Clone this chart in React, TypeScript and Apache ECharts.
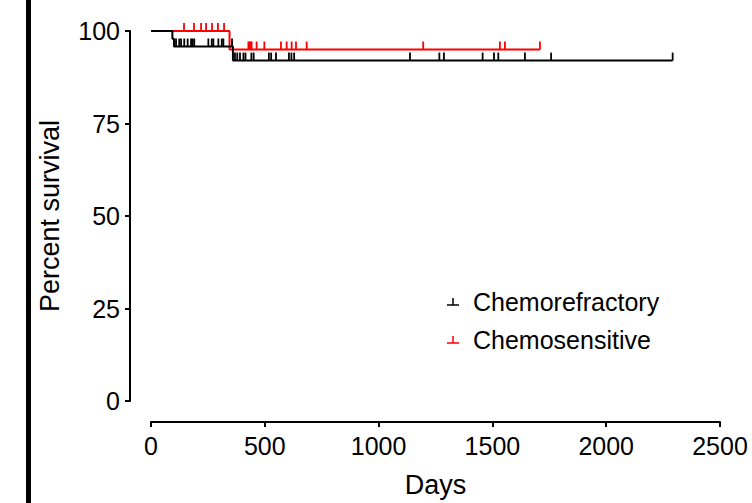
import React, { useEffect, useRef } from "react";
import * as echarts from "echarts";

// ---- data ----
const xTicks = [0, 500, 1000, 1500, 2000, 2500];
const yTicks = [0, 25, 50, 75, 100];

const seriesNames = ["Chemorefractory", "Chemosensitive"];
const seriesColors = ["#000000", "#ff0000"];

// Chemorefractory (black)
const refractoryEventDays = [94, 101, 360];
const refractorySurvival = [97.9, 95.8, 92.0];
const refractoryCensorDays = [
  110, 124, 132, 146, 161, 176, 183, 190, 252, 267, 274, 296, 311, 318, 356,
  369, 379, 391, 406, 415, 441, 451, 518, 528, 549, 606, 617, 629, 1138, 1267,
  1287, 1457, 1507, 1526, 1643, 1758, 2292,
];

// Chemosensitive (red)
const sensitiveEventDays = [345];
const sensitiveSurvival = [95.0];
const sensitiveCensorDays = [
  145, 189, 220, 242, 268, 294, 321, 428, 433, 438, 442, 464, 498, 571, 596,
  618, 637, 684, 1196, 1533, 1555, 1709,
];

function survivalAt(day: number, events: number[], surv: number[]) {
  let s = 100;
  for (let i = 0; i < events.length; i++) if (events[i] <= day) s = surv[i];
  return s;
}

function curve(events: number[], surv: number[], censors: number[]) {
  const pts: [number, number][] = [[0, 100]];
  events.forEach((d, i) => pts.push([d, surv[i]]));
  const last = censors[censors.length - 1];
  pts.push([last, survivalAt(last, events, surv)]);
  return pts;
}

function censorPts(events: number[], surv: number[], censors: number[]) {
  return censors.map((d) => [d, survivalAt(d, events, surv)]);
}

const FONT = "'Liberation Sans', Arial, Helvetica, sans-serif";

export default function App() {
  const ref = useRef<HTMLDivElement>(null);
  useEffect(() => {
    if (!ref.current) return;
    const chart = echarts.init(ref.current, undefined, { renderer: "svg" });
    const tickRender = (color: string) => (params: any, api: any) => {
      const p = api.coord([api.value(0), api.value(1)]);
      return {
        type: "line",
        shape: { x1: p[0], y1: p[1], x2: p[0], y2: p[1] - 8 },
        style: { stroke: color, lineWidth: 1.8 },
      };
    };
    const legendY = [302, 340];
    const legendGraphic: any[] = [];
    seriesNames.forEach((n, i) => {
      const y = legendY[i];
      legendGraphic.push(
        { type: "line", shape: { x1: 447, y1: y + 3, x2: 459, y2: y + 3 }, style: { stroke: seriesColors[i], lineWidth: 1.5 } },
        { type: "line", shape: { x1: 453, y1: y + 3, x2: 453, y2: y - 4 }, style: { stroke: seriesColors[i], lineWidth: 1.5 } },
        { type: "text", x: 473, y: y, style: { text: n, font: `25px ${FONT}`, fill: "#000", verticalAlign: "middle", align: "left" } }
      );
    });

    chart.setOption({
      animation: false,
      backgroundColor: "#ffffff",
      grid: { left: 151, right: 32, top: 31, bottom: 101, containLabel: false },
      xAxis: {
        type: "value",
        min: 0,
        max: 2500,
        interval: 500,
        offset: 21,
        name: "Days",
        nameLocation: "middle",
        nameGap: 49,
        nameTextStyle: { fontFamily: FONT, fontSize: 27, color: "#000" },
        axisLine: { show: true, onZero: false, lineStyle: { color: "#000", width: 2 } },
        axisTick: { show: true, length: 5, lineStyle: { color: "#000", width: 2 } },
        axisLabel: {
          fontFamily: FONT, fontSize: 25, color: "#000", margin: 11,
          formatter: (v: number) => (xTicks.includes(v) ? String(v) : ""),
        },
        splitLine: { show: false },
      },
      yAxis: {
        type: "value",
        min: 0,
        max: 100,
        interval: 25,
        offset: 21,
        name: "Percent survival",
        nameLocation: "middle",
        nameGap: 67,
        nameTextStyle: { fontFamily: FONT, fontSize: 27, color: "#000" },
        axisLine: { show: true, onZero: false, lineStyle: { color: "#000", width: 2 } },
        axisTick: { show: true, length: 5, lineStyle: { color: "#000", width: 2 } },
        axisLabel: {
          fontFamily: FONT, fontSize: 25, color: "#000", margin: 10,
          formatter: (v: number) => (yTicks.includes(v) ? String(v) : ""),
        },
        splitLine: { show: false },
      },
      graphic: [
        { type: "rect", shape: { x: 26, y: 0, width: 5, height: 503 }, style: { fill: "#000" } },
        ...legendGraphic,
      ],
      series: [
        {
          name: seriesNames[1],
          type: "line",
          step: "end",
          showSymbol: false,
          data: curve(sensitiveEventDays, sensitiveSurvival, sensitiveCensorDays),
          lineStyle: { color: seriesColors[1], width: 2 },
          itemStyle: { color: seriesColors[1] },
          z: 2,
        },
        {
          name: seriesNames[1] + " censored",
          type: "custom",
          renderItem: tickRender(seriesColors[1]),
          data: censorPts(sensitiveEventDays, sensitiveSurvival, sensitiveCensorDays),
          z: 2,
        },
        {
          name: seriesNames[0],
          type: "line",
          step: "end",
          showSymbol: false,
          data: curve(refractoryEventDays, refractorySurvival, refractoryCensorDays),
          lineStyle: { color: seriesColors[0], width: 2 },
          itemStyle: { color: seriesColors[0] },
          z: 3,
        },
        {
          name: seriesNames[0] + " censored",
          type: "custom",
          renderItem: tickRender(seriesColors[0]),
          data: censorPts(refractoryEventDays, refractorySurvival, refractoryCensorDays),
          z: 3,
        },
      ],
    });
    return () => chart.dispose();
  }, []);
  return (
    <div
      ref={ref}
      style={{ position: "absolute", left: 0, top: 0, width: 752, height: 503 }}
    />
  );
}
